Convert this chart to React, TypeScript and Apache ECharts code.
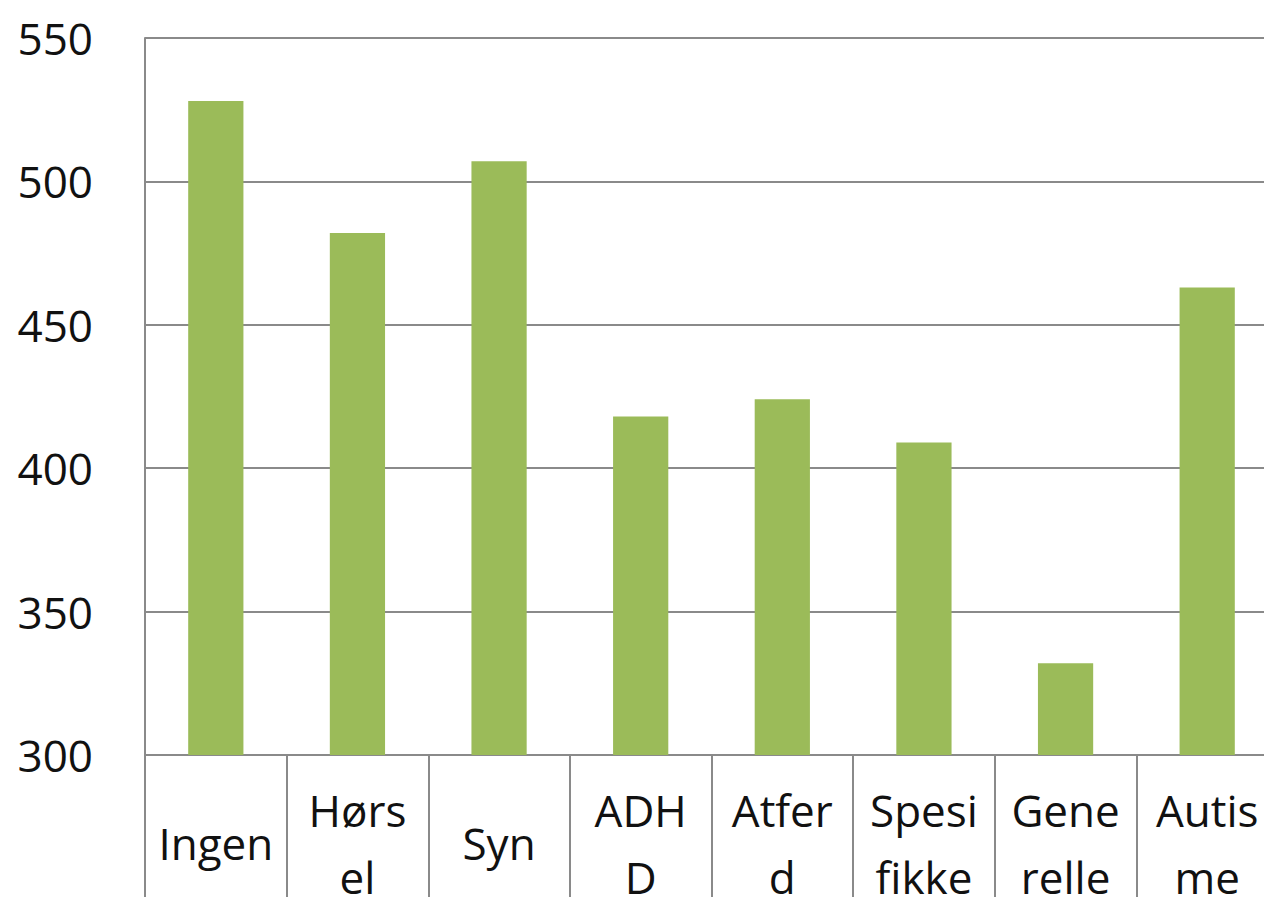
import React, { useEffect, useRef } from "react";
import * as echarts from "echarts";

const categories = ["Ingen", "Hørsel", "Syn", "ADHD", "Atferd", "Spesifikke", "Generelle", "Autisme"];
const wrappedLabels = ["Ingen", "Hørs\nel", "Syn", "ADH\nD", "Atfer\nd", "Spesi\nfikke", "Gene\nrelle", "Autis\nme"];
const values = [528, 482, 507, 418, 424, 409, 332, 463];
const yTicks = { min: 300, max: 550, interval: 50 };

export default function App() {
  const ref = useRef<HTMLDivElement>(null);
  useEffect(() => {
    if (!ref.current) return;
    const chart = echarts.init(ref.current, null, { renderer: "svg" });
    const gray = "#8a8a8a";
    chart.setOption({
      animation: false,
      backgroundColor: "#ffffff",
      grid: { left: 145, top: 38, bottom: 142, right: -14, containLabel: false, outerBoundsMode: "none" },
      xAxis: {
        type: "category",
        data: categories,
        axisLine: { show: true, lineStyle: { color: gray, width: 2 } },
        axisTick: { show: true, length: 170, interval: 0, alignWithLabel: false, lineStyle: { color: gray, width: 2 } },
        axisLabel: {
          interval: 0,
          margin: 88,
          verticalAlign: "middle",
          fontFamily: "Open Sans",
          fontSize: 44,
          lineHeight: 67,
          color: "#111",
          formatter: (_v: string, i: number) => wrappedLabels[i],
        },
      },
      yAxis: {
        type: "value",
        min: yTicks.min,
        max: yTicks.max,
        interval: yTicks.interval,
        axisLine: { show: true, lineStyle: { color: gray, width: 2 } },
        axisTick: { show: false },
        splitLine: { show: true, lineStyle: { color: gray, width: 2 } },
        axisLabel: {
          margin: 52,
          fontFamily: "Open Sans",
          fontSize: 44,
          color: "#111",
        },
      },
      series: [
        {
          type: "bar",
          data: values,
          barWidth: "39%",
          itemStyle: { color: "#9bbb59" },
        },
      ],
    });
    return () => chart.dispose();
  }, []);
  return (
    <div
      ref={ref}
      style={{ position: "fixed", left: 0, top: 0, width: 1264, height: 897, background: "#fff" }}
    />
  );
}
